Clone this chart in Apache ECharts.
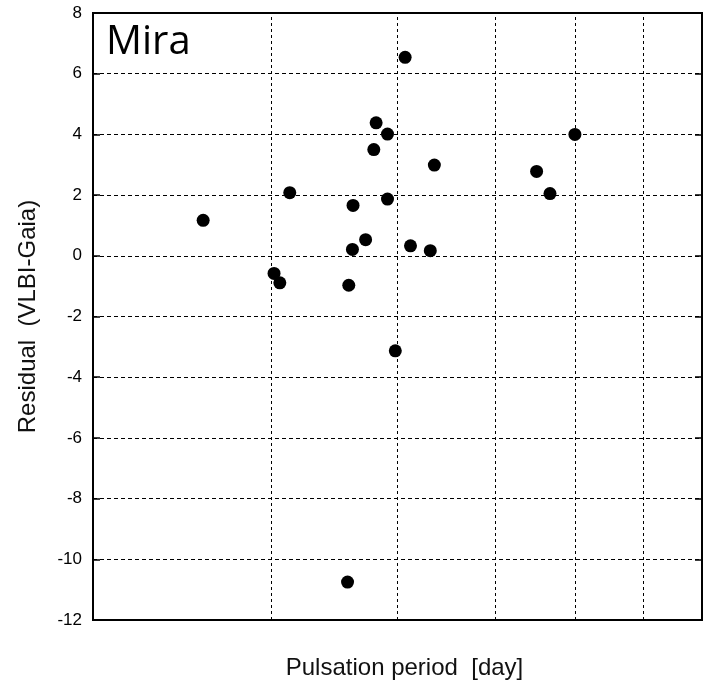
<!DOCTYPE html>
<html>
<head>
<meta charset="utf-8">
<title>Mira residuals vs pulsation period</title>
<script src="https://cdn.jsdelivr.net/npm/echarts@6/dist/echarts.min.js"></script>
<style>
  html, body { margin: 0; padding: 0; background: #fff; }
  #chart { width: 709px; height: 681px; }
</style>
</head>
<body>
<div id="chart"></div>
<script>
// Pulsation period [day] of each Mira star and its parallax residual (VLBI - Gaia)
const periods = [257, 313, 302, 306, 358, 361, 361.5, 372, 379, 381, 391, 391, 407, 412, 431, 435, 549, 566, 599, 398, 357];
const residuals = [1.17, 2.08, -0.58, -0.89, -0.97, 0.21, 1.66, 0.53, 3.50, 4.38, 4.01, 1.87, 6.54, 0.33, 0.17, 2.99, 2.78, 2.05, 4.00, -3.13, -10.75];

// Vertical grid positions on the log period axis
const periodGrid = [300, 400, 500, 600, 700];
const yTicks = { min: -12, max: 8, step: 2 };

const points = periods.map((p, i) => [p, residuals[i]]);

const chart = echarts.init(document.getElementById('chart'), null, { renderer: 'canvas' });
const font = '"Liberation Sans", Arial, sans-serif';

chart.setOption({
  animation: false,
  backgroundColor: '#ffffff',
  grid: {
    left: 93, right: 7, top: 13, bottom: 61,
    outerBoundsMode: 'none', containLabel: false,
    show: true, borderColor: '#000', borderWidth: 2, backgroundColor: 'transparent'
  },
  xAxis: {
    type: 'log', logBase: 10, min: 200, max: 800,
    name: 'Pulsation period  [day]',
    nameLocation: 'middle', nameGap: 36,
    nameTextStyle: { fontFamily: font, fontSize: 24, color: '#111', padding: [0, 0, 0, 14] },
    axisLine: { show: false }, axisTick: { show: false },
    axisLabel: { show: false }, splitLine: { show: false }
  },
  yAxis: [{
    type: 'value', min: yTicks.min, max: yTicks.max, interval: yTicks.step,
    name: 'Residual  (VLBI-Gaia)',
    nameLocation: 'middle', nameRotate: 90, nameGap: 53,
    nameTextStyle: { fontFamily: font, fontSize: 24, color: '#111' },
    axisLine: { show: false },
    axisTick: { show: true, inside: true, length: 7, lineStyle: { color: '#000', width: 1.5 } },
    axisLabel: { fontFamily: font, fontSize: 17, color: '#000', margin: 11 },
    splitLine: { show: true, lineStyle: { color: '#000', type: [4, 3], width: 1 } }
  }, {
    type: 'value', position: 'right', min: yTicks.min, max: yTicks.max, interval: yTicks.step,
    axisLine: { show: false },
    axisTick: { show: true, inside: true, length: 7, lineStyle: { color: '#000', width: 1.5 } },
    axisLabel: { show: false }, splitLine: { show: false }
  }],
  graphic: [{
    type: 'text', left: 106, top: 23, z: 10,
    style: { text: 'Mira', font: '40px "Open Sans", Lato, sans-serif', fill: '#000' }
  }],
  series: [{
    type: 'scatter',
    data: points,
    symbol: 'circle', symbolSize: 13,
    itemStyle: { color: '#000', opacity: 1 },
    z: 5,
    markLine: {
      silent: true, symbol: 'none', animation: false,
      label: { show: false },
      lineStyle: { color: '#000', type: [3, 3], width: 1 },
      data: periodGrid.map(v => ({ xAxis: v }))
    }
  }]
});
</script>
</body>
</html>
